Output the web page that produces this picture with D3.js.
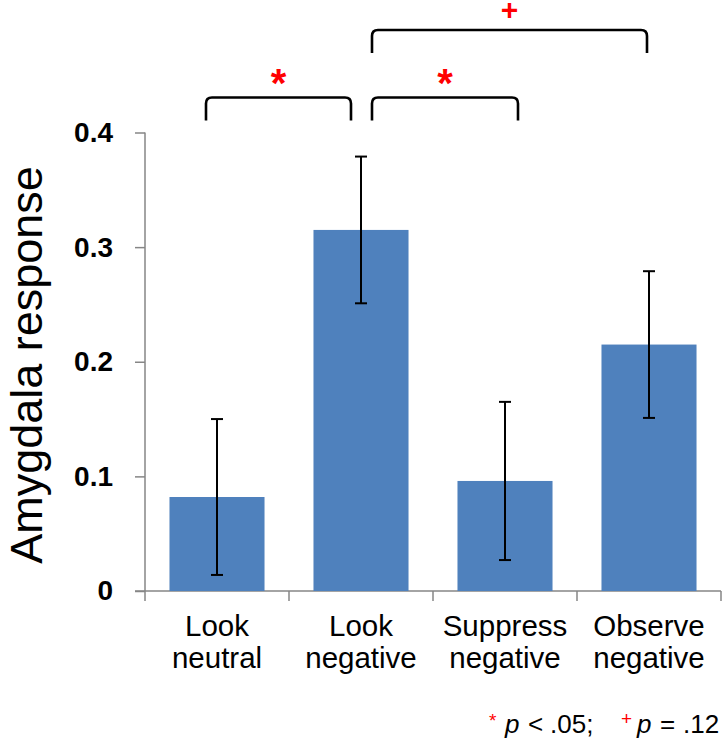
<!DOCTYPE html>
<html>
<head>
<meta charset="utf-8">
<script src="https://cdn.jsdelivr.net/npm/d3@7"></script>
<style>
  html, body { margin: 0; padding: 0; background: #fff; }
  svg { display: block; }
</style>
</head>
<body>
<svg id="chart" width="724" height="738"></svg>
<script>
// data
const categories = ['Look neutral', 'Look negative', 'Suppress negative', 'Observe negative']
const means = [0.082, 0.315, 0.096, 0.215]
const errors = [0.068, 0.064, 0.069, 0.064]
const yTicks = [0, 0.1, 0.2, 0.3, 0.4]
// significance brackets: [from index, to index, level, mark]
const comparisons = [
  [0, 1, 0, '*'],
  [1, 2, 0, '*'],
  [1, 3, 1, '+']
]

const svg = d3.select('#chart')
const barColor = '#4F81BD'
const axisColor = '#868686'
const font = 'Liberation Sans, Arial, sans-serif'

const x = d3.scaleBand()
  .domain(categories)
  .range([145, 721])
  .paddingInner(0.34)
  .paddingOuter(0.17)

const y = d3.scaleLinear()
  .domain([0, 0.4])
  .range([591, 132.5])

// y axis
const yAxis = svg.append('g')
  .attr('transform', 'translate(145,0)')
  .call(d3.axisLeft(y)
    .tickValues(yTicks)
    .tickSize(10)
    .tickPadding(22)
    .tickFormat(d => d === 0 ? '0' : d3.format('.1f')(d)))
yAxis.select('.domain').attr('stroke', axisColor).attr('stroke-width', 1.5)
  .attr('d', `M0,${y(0.4)}V${y(0)}`)
yAxis.selectAll('.tick line').attr('stroke', axisColor).attr('stroke-width', 1.5)
yAxis.selectAll('.tick text')
  .attr('fill', '#000')
  .style('font-family', font)
  .style('font-weight', 'bold')
  .style('font-size', '28px')

// x axis
const xAxis = svg.append('g')
  .attr('transform', `translate(0,${y(0)})`)
xAxis.append('line')
  .attr('x1', 135).attr('x2', x.range()[1])
  .attr('stroke', axisColor).attr('stroke-width', 1.5)
const bounds = [x.range()[0]].concat(categories.map(c => x(c) + x.bandwidth() + x.step() * x.paddingInner() / 2))
bounds[bounds.length - 1] = x.range()[1]
xAxis.selectAll('.xtick').data(bounds).enter().append('line')
  .attr('x1', d => d).attr('x2', d => d)
  .attr('y1', 0).attr('y2', 10)
  .attr('stroke', axisColor).attr('stroke-width', 1.5)

const labels = xAxis.selectAll('.xlabel').data(categories).enter().append('text')
  .attr('text-anchor', 'middle')
  .attr('transform', d => `translate(${x(d) + x.bandwidth() / 2},0)`)
  .style('font-family', font)
  .style('font-size', '29.5px')
  .attr('fill', '#000')
labels.append('tspan').attr('x', 0).attr('y', 45).text(d => d.split(' ')[0])
labels.append('tspan').attr('x', 0).attr('y', 77).text(d => d.split(' ')[1])

// bars
svg.selectAll('.bar').data(categories).enter().append('rect')
  .attr('x', d => x(d))
  .attr('y', (d, i) => y(means[i]))
  .attr('width', x.bandwidth())
  .attr('height', (d, i) => y(0) - y(means[i]))
  .attr('fill', barColor)

// error bars
const eb = svg.selectAll('.err').data(categories).enter().append('g')
  .attr('transform', d => `translate(${x(d) + x.bandwidth() / 2},0)`)
eb.append('line')
  .attr('y1', (d, i) => y(means[i] + errors[i]))
  .attr('y2', (d, i) => y(means[i] - errors[i]))
  .attr('stroke', '#000').attr('stroke-width', 2)
eb.append('line')
  .attr('x1', -6).attr('x2', 6)
  .attr('y1', (d, i) => y(means[i] + errors[i]))
  .attr('y2', (d, i) => y(means[i] + errors[i]))
  .attr('stroke', '#000').attr('stroke-width', 2)
eb.append('line')
  .attr('x1', -6).attr('x2', 6)
  .attr('y1', (d, i) => y(means[i] - errors[i]))
  .attr('y2', (d, i) => y(means[i] - errors[i]))
  .attr('stroke', '#000').attr('stroke-width', 2)

// y title
svg.append('text')
  .attr('transform', 'translate(42,365) rotate(-90)')
  .attr('text-anchor', 'middle')
  .style('font-family', font)
  .style('font-size', '45px')
  .attr('fill', '#000')
  .text('Amygdala response')

// significance brackets
const cx = i => x(categories[i]) + x.bandwidth() / 2
const endOffset = [[-11, -10], [11, 13], [11, -2]]
const r = 6
comparisons.forEach((c, k) => {
  const x1 = cx(c[0]) + endOffset[k][0]
  const x2 = cx(c[1]) + endOffset[k][1]
  const top = 97.5 - c[2] * 67.5
  const bottom = top + 23
  svg.append('path')
    .attr('d', `M${x1},${bottom}V${top + r}Q${x1},${top} ${x1 + r},${top}H${x2 - r}Q${x2},${top} ${x2},${top + r}V${bottom}`)
    .attr('fill', 'none')
    .attr('stroke', '#000')
    .attr('stroke-width', 2.6)
  svg.append('text')
    .attr('x', (x1 + x2) / 2)
    .attr('y', c[3] === '*' ? top - 1 : top - 10)
    .attr('text-anchor', 'middle')
    .style('font-family', font)
    .style('font-weight', 'bold')
    .style('font-size', c[3] === '*' ? '40px' : '30px')
    .attr('fill', '#FF0000')
    .text(c[3])
})

// legend note
const note = svg.append('g')
  .style('font-family', font)
  .style('font-size', '26px')
  .attr('fill', '#000')
const noteParts = [
  { x: 489, dy: -6, size: 19, red: true, text: '*' },
  { x: 505, italic: true, text: 'p' },
  { x: 528, text: '<' },
  { x: 550, text: '.05;' },
  { x: 621, dy: -8, size: 19, red: true, text: '+' },
  { x: 637, italic: true, text: 'p' },
  { x: 660, text: '=' },
  { x: 683, text: '.12' }
]
note.selectAll('text').data(noteParts).enter().append('text')
  .attr('x', d => d.x)
  .attr('y', d => 733 + (d.dy || 0))
  .attr('fill', d => d.red ? '#FF0000' : '#000')
  .style('font-size', d => d.size ? d.size + 'px' : null)
  .style('font-style', d => d.italic ? 'italic' : null)
  .text(d => d.text)
</script>
</body>
</html>
